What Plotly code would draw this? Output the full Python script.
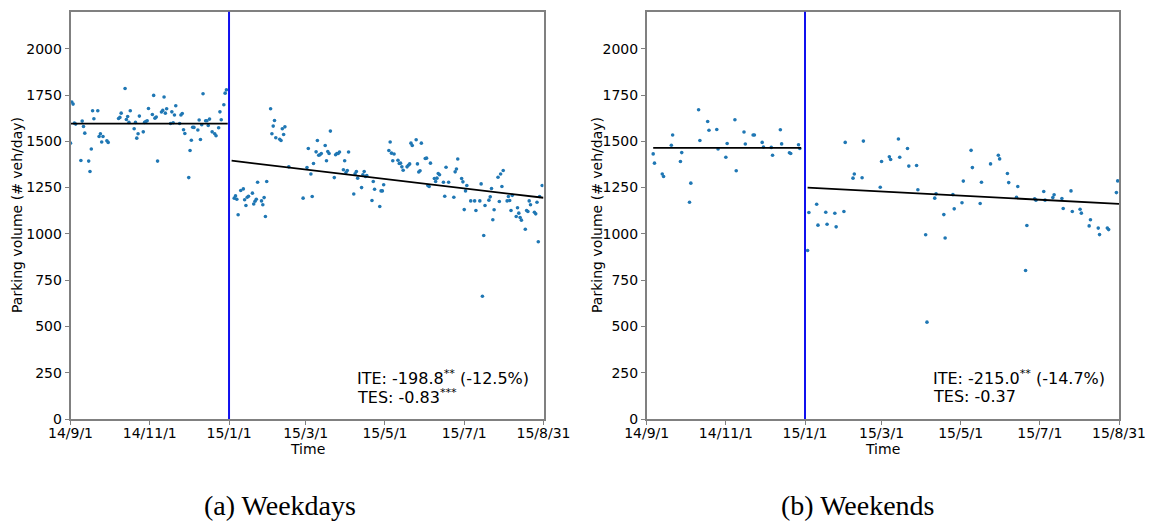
import pandas as pd
import plotly.graph_objects as go

# ---------------- data ----------------
start_date = "2014-09-01"
intervention_date = "2015-01-01"
x_range = ["2014-09-01", "2015-08-31"]
tick_dates = ["2014-09-01", "2014-11-01", "2015-01-01", "2015-03-01",
              "2015-05-01", "2015-07-01", "2015-08-31"]
tick_labels = ["14/9/1", "14/11/1", "15/1/1", "15/3/1", "15/5/1", "15/7/1", "15/8/31"]
y_ticks = [0, 250, 500, 750, 1000, 1250, 1500, 1750, 2000]

# Weekdays (day offset from 2014-09-01, parking volume)
wd_pre_day = [0, 1, 2, 3, 4, 8, 9, 10, 11, 14, 15, 16, 17, 18, 21, 22, 23, 24, 25, 28, 29,
              37, 38, 39, 42, 43, 44, 45, 46, 49, 50, 51, 52, 53, 56, 57, 58, 59, 60,
              63, 64, 65, 66, 67, 70, 71, 72, 73, 74, 77, 78, 79, 80, 81, 84, 85, 86, 87, 88,
              91, 92, 93, 94, 95, 98, 99, 100, 101, 102, 104, 105, 106, 107, 109, 111, 112,
              114, 115, 116, 118, 119, 120]
wd_pre_val = [1490, 1712, 1701, 1598, 1593, 1396, 1609, 1580, 1544, 1393, 1337, 1458, 1665, 1622,
              1665, 1526, 1541, 1496, 1526, 1503, 1494,
              1623, 1629, 1652, 1785, 1618, 1634, 1602, 1665, 1568, 1602, 1517, 1541, 1636,
              1551, 1602, 1607, 1611, 1677, 1645, 1748, 1625, 1631, 1393, 1658, 1667, 1739,
              1652, 1676, 1596, 1659, 1600, 1642, 1692, 1596, 1642, 1650, 1562, 1542,
              1304, 1450, 1506, 1576, 1575, 1561, 1615, 1510, 1589, 1757, 1611, 1611, 1585,
              1620, 1551, 1541, 1530, 1573, 1659, 1616, 1697, 1760, 1778]
wd_post_day = [126, 127, 128, 129, 131, 133, 134, 135, 136, 137, 140, 141, 142, 143, 144,
               147, 148, 149, 150, 151, 154, 155, 156, 157, 158, 161, 162, 163, 164, 165, 168,
               179, 182, 183, 185, 186, 187, 189, 190, 191, 192, 193, 196, 197, 198, 199, 200,
               203, 204, 205, 206, 207, 210, 211, 212, 213, 214, 218, 219, 220, 221,
               224, 225, 226, 227, 228, 232, 233, 234, 238, 239, 240, 241,
               245, 246, 247, 248, 249, 252, 253, 254, 255, 256, 259, 260, 261, 262, 263,
               266, 267, 268, 269, 270, 273, 274, 275, 276, 277, 280, 281, 282, 283, 284,
               287, 288, 289, 291, 295, 296, 297, 298, 301, 302, 303, 304, 305, 308, 311, 312,
               315, 316, 317, 318, 319, 322, 323, 324, 325, 326, 329, 330, 331, 332, 333,
               336, 337, 338, 339, 340, 343, 344, 345, 346, 347, 350, 351, 352, 353, 354,
               357, 358, 359, 360, 361, 363]
wd_post_val = [1193, 1205, 1187, 1103, 1234, 1243, 1184, 1153, 1198, 1203, 1220, 1161, 1176, 1187, 1279,
               1178, 1157, 1196, 1094, 1283, 1676, 1541, 1582, 1612, 1519, 1511, 1504, 1568, 1537, 1578, 1362,
               1193, 1358, 1461, 1323, 1202, 1380, 1443, 1504, 1425, 1427, 1434, 1477, 1395, 1445, 1434, 1555,
               1304, 1427, 1434, 1434, 1442, 1346, 1395, 1331, 1342, 1442, 1215, 1324, 1337, 1301,
               1250, 1319, 1337, 1310, 1315, 1180, 1283, 1241, 1148, 1232, 1232, 1265,
               1450, 1496, 1436, 1395, 1431, 1398, 1380, 1382, 1362, 1344, 1362, 1371, 1378, 1490, 1477,
               1508, 1378, 1334, 1341, 1490, 1407, 1409, 1261, 1256, 1382, 1299, 1283, 1301, 1326, 1319,
               1279, 1203, 1360, 1279, 1198, 1335, 1350, 1404, 1299, 1281, 1131, 1232, 1261, 1178, 1178, 1126,
               1178, 1270, 663, 991, 1153, 1182, 1200, 1245, 1076, 1130, 1306, 1175, 1323, 1256, 1342,
               1178, 1202, 1180, 1126, 1208, 1094, 1141, 1112, 1088, 1074, 1025, 1126, 1121, 1178, 1157,
               1117, 1108, 1171, 957, 1202, 1261]
wd_fit_pre_day = [0, 121]
wd_fit_pre_val = [1595, 1595]
wd_fit_post_day = [124, 364]
wd_fit_post_val = [1395, 1195]

# Weekends
we_pre_day = [5, 6, 12, 13, 19, 20, 26, 27, 33, 34, 40, 41, 47, 48, 54, 55, 61, 62, 68, 69,
              75, 76, 82, 83, 89, 90, 96, 97, 103, 104, 110, 111, 117, 118]
we_pre_val = [1432, 1382, 1323, 1310, 1479, 1534, 1391, 1439, 1171, 1274, 1670, 1504, 1607, 1560,
              1564, 1458, 1414, 1488, 1616, 1341, 1550, 1485, 1534, 1534, 1494, 1469, 1467, 1425,
              1562, 1486, 1438, 1434, 1481, 1461]
we_post_day = [124, 125, 131, 132, 138, 139, 145, 146, 152, 153, 159, 160, 166, 167,
               180, 181, 187, 188, 194, 195, 201, 202, 208, 209, 215, 216, 222, 223, 229, 230,
               236, 237, 243, 244, 250, 251, 257, 258, 265, 271, 272, 278, 279, 285, 286,
               292, 293, 299, 300, 306, 307, 313, 314, 320, 321, 327, 328, 334, 335,
               341, 342, 348, 349, 355, 356, 362, 363]
we_post_val = [910, 1115, 1160, 1047, 1117, 1052, 1111, 1038, 1121, 1494, 1301, 1323, 1303, 1501,
               1252, 1391, 1416, 1402, 1512, 1414, 1461, 1366, 1369, 1238, 995, 523, 1193, 1216, 1104, 978,
               1212, 1135, 1168, 1285, 1451, 1358, 1164, 1279, 1378, 1425, 1405, 1326, 1277, 1198, 1256,
               802, 1045, 1189, 1182, 1229, 1182, 1196, 1211, 1191, 1137, 1232, 1121, 1133, 1112,
               1043, 1076, 1031, 996, 1031, 1023, 1223, 1286]
we_fit_pre_day = [5, 119]
we_fit_pre_val = [1465, 1465]
we_fit_post_day = [124, 364]
we_fit_post_val = [1250, 1162]

panels = [
    dict(pre_d=wd_pre_day, pre_v=wd_pre_val, post_d=wd_post_day, post_v=wd_post_val,
         fpre_d=wd_fit_pre_day, fpre_v=wd_fit_pre_val, fpost_d=wd_fit_post_day, fpost_v=wd_fit_post_val,
         ite="ITE: -198.8<sup>**</sup> (-12.5%)", tes="TES: -0.83<sup>***</sup>",
         caption="(a) Weekdays"),
    dict(pre_d=we_pre_day, pre_v=we_pre_val, post_d=we_post_day, post_v=we_post_val,
         fpre_d=we_fit_pre_day, fpre_v=we_fit_pre_val, fpost_d=we_fit_post_day, fpost_v=we_fit_post_val,
         ite="ITE: -215.0<sup>**</sup> (-14.7%)", tes="TES: -0.37",
         caption="(b) Weekends"),
]

# ---------------- figure ----------------
# the page body has an 8px margin, so the figure starts at (8, 8)
OX, OY = 8, 8
W, H = 1153 - OX, 522 - OY
start = pd.Timestamp(start_date)


def to_dates(days):
    return [start + pd.Timedelta(days=d) for d in days]


def px(xp):
    return (xp - OX) / W


def py(yp):
    return 1 - (yp - OY) / H


x_domains = [[px(70.5), px(543.5)], [px(646.7), px(1119)]]
y_domain = [py(419), py(11.7)]
dot_color = "#1f77b4"
spine = "#808080"
font_family = "DejaVu Sans"

fig = go.Figure()
for i, p in enumerate(panels):
    xa = "x" if i == 0 else "x2"
    ya = "y" if i == 0 else "y2"
    fig.add_trace(go.Scatter(x=to_dates(p["pre_d"] + p["post_d"]), y=p["pre_v"] + p["post_v"],
                             mode="markers", marker=dict(size=3.6, color=dot_color),
                             xaxis=xa, yaxis=ya, showlegend=False))
    fig.add_trace(go.Scatter(x=to_dates(p["fpre_d"]), y=p["fpre_v"], mode="lines",
                             line=dict(color="black", width=1.8), xaxis=xa, yaxis=ya, showlegend=False))
    fig.add_trace(go.Scatter(x=to_dates(p["fpost_d"]), y=p["fpost_v"], mode="lines",
                             line=dict(color="black", width=1.8), xaxis=xa, yaxis=ya, showlegend=False))
    fig.add_shape(type="line", xref=xa, yref=f"{ya} domain", x0=intervention_date, x1=intervention_date,
                  y0=0, y1=1, line=dict(color="#1010ee", width=2), layer="above")
    fig.add_annotation(xref=f"{xa} domain", yref=f"{ya} domain", x=0.601, y=(419 - 377.7) / 407.3,
                       text=p["ite"], showarrow=False, xanchor="left", yanchor="middle",
                       font=dict(family=font_family, size=16, color="black"))
    fig.add_annotation(xref=f"{xa} domain", yref=f"{ya} domain", x=0.601, y=(419 - 396.7) / 407.3,
                       text=p["tes"], showarrow=False, xanchor="left", yanchor="middle",
                       font=dict(family=font_family, size=16, color="black"))
    cx = (x_domains[i][0] + x_domains[i][1]) / 2
    fig.add_annotation(xref="paper", yref="paper", x=cx, y=py(449), text="Time", showarrow=False,
                       xanchor="center", yanchor="middle", font=dict(family=font_family, size=14, color="black"))
    fig.add_annotation(xref="paper", yref="paper", x=px(17 if i == 0 else 597), y=py(215),
                       text="Parking volume (# veh/day)", textangle=-90, showarrow=False,
                       xanchor="center", yanchor="middle", font=dict(family=font_family, size=14, color="black"))
    fig.add_annotation(xref="paper", yref="paper", x=px(280 if i == 0 else 858), y=py(505),
                       text=p["caption"], showarrow=False, xanchor="center", yanchor="middle",
                       font=dict(family="Liberation Serif", size=28, color="black"))

axis_common = dict(showgrid=False, zeroline=False, showline=True, linecolor=spine, linewidth=1.5,
                   mirror=True, ticks="outside", ticklen=4, tickcolor=spine, tickwidth=1,
                   automargin=False,
                   tickfont=dict(family=font_family, size=14, color="black"))
for i in range(2):
    sfx = "" if i == 0 else "2"
    fig.update_layout(**{
        f"xaxis{sfx}": dict(axis_common, type="date", domain=x_domains[i], range=x_range,
                            tickmode="array", tickvals=tick_dates, ticktext=tick_labels,
                            ticklabelstandoff=-4, anchor=f"y{sfx}"),
        f"yaxis{sfx}": dict(axis_common, domain=y_domain, range=[0, 2200], tickmode="array",
                            tickvals=y_ticks, ticktext=[str(v) for v in y_ticks],
                            anchor=f"x{sfx}"),
    })

fig.update_layout(width=W, height=H, margin=dict(l=0, r=0, t=0, b=0, autoexpand=False),
                  paper_bgcolor="white", plot_bgcolor="white",
                  font=dict(family=font_family, color="black"))
fig.write_html("out.html")
